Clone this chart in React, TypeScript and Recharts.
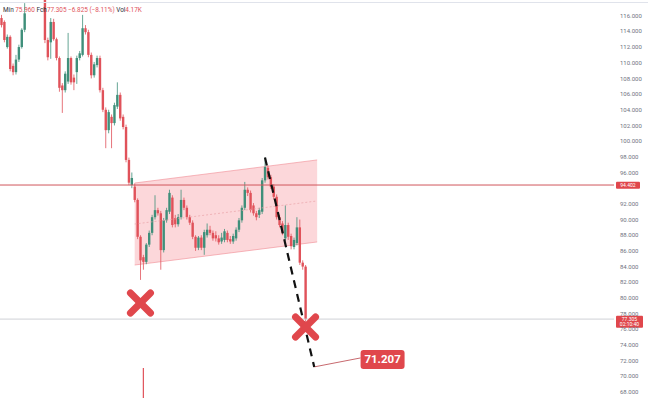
import React from "react";
import {
  ComposedChart,
  Bar,
  Area,
  Line,
  XAxis,
  YAxis,
  ReferenceLine,
  ReferenceDot,
} from "recharts";

// candles, oldest first (prices in thousands)
const opens = [
  115.7, 115.2, 112.0, 113.3, 109.6, 108.8, 110.4, 112.0, 114.2, 118.6,
  119.4, 120.1, 119.6, 118.9, 119.5, 118.7, 112.9, 112.6, 115.2, 113.0,
  110.6, 107.1, 106.5, 107.6, 110.6, 108.1, 108.8, 110.6, 111.0, 114.4,
  113.9, 111.0, 108.4, 109.7, 110.6, 106.5, 104.0, 101.4, 103.1, 102.3,
  104.4, 105.9, 103.1, 101.8, 97.6, 94.4, 94.2, 92.5, 87.8, 85.2,
  84.6, 86.8, 88.3, 90.3, 91.2, 90.8, 86.1, 89.9, 91.0, 92.8,
  90.2, 89.4, 90.3, 92.5, 91.5, 90.3, 89.6, 87.8, 86.4, 87.7,
  86.4, 88.0, 88.7, 88.3, 88.0, 87.6, 87.2, 87.4, 88.3, 87.5,
  87.2, 87.6, 88.7, 89.9, 91.5, 93.8, 93.4, 91.8, 90.8, 90.6,
  91.0, 95.0, 96.6, 95.4, 94.2, 92.9, 90.3, 89.5, 87.6, 89.3,
  87.9, 86.5, 87.0, 89.0, 84.5, 84.0,
];
const highs = [
  116.1, 115.4, 113.6, 113.5, 109.9, 111.0, 112.3, 114.4, 117.6, 119.8,
  120.6, 121.0, 120.2, 119.9, 119.9, 119.1, 113.2, 115.7, 115.6, 113.2,
  110.8, 107.4, 108.9, 113.8, 110.8, 108.5, 110.9, 111.5, 116.1, 114.8,
  114.2, 111.3, 110.1, 110.9, 110.9, 106.8, 104.3, 104.0, 103.4, 104.9,
  107.5, 106.2, 103.4, 102.1, 97.9, 96.0, 94.6, 92.7, 88.0, 85.5,
  87.0, 88.6, 90.6, 93.1, 91.5, 91.1, 90.2, 91.5, 93.8, 93.1,
  90.6, 90.7, 93.8, 92.8, 91.8, 90.6, 89.9, 88.0, 87.9, 88.0,
  88.7, 89.5, 89.2, 88.6, 88.5, 88.0, 88.3, 88.8, 88.6, 87.9,
  88.2, 89.0, 90.2, 91.8, 94.8, 94.1, 93.7, 92.1, 91.1, 91.5,
  95.3, 97.9, 96.9, 95.7, 94.5, 93.2, 90.6, 89.8, 91.8, 89.6,
  88.2, 87.7, 90.3, 90.0, 84.8, 84.2,
];
const lows = [
  114.5, 112.6, 111.8, 108.9, 108.4, 108.5, 110.1, 111.8, 113.9, 118.3,
  118.9, 119.2, 118.5, 118.4, 118.4, 112.5, 110.3, 110.5, 112.8, 110.3,
  106.3, 103.6, 106.2, 107.3, 107.2, 106.5, 107.3, 110.3, 110.8, 113.6,
  110.7, 108.0, 108.1, 109.4, 106.2, 103.7, 99.1, 101.0, 99.1, 102.0,
  104.1, 102.6, 101.5, 97.3, 94.4, 94.0, 92.2, 87.5, 82.3, 83.6,
  84.3, 86.5, 88.0, 90.0, 90.5, 83.6, 85.8, 89.6, 90.7, 89.0,
  89.0, 89.1, 90.0, 91.2, 90.0, 89.3, 87.5, 86.0, 86.1, 86.1,
  85.5, 87.7, 88.0, 87.3, 87.2, 86.8, 86.9, 87.1, 87.1, 86.9,
  86.9, 87.3, 88.4, 89.6, 91.2, 93.0, 90.9, 90.5, 89.9, 90.2,
  90.7, 94.7, 95.1, 93.9, 92.6, 90.0, 89.0, 88.0, 87.3, 87.4,
  86.2, 86.2, 86.7, 84.2, 83.6, 75.96,
];
const closes = [
  114.8, 112.9, 113.3, 109.2, 108.8, 110.4, 112.0, 114.2, 116.3, 119.4,
  120.1, 119.6, 118.9, 119.5, 118.7, 112.9, 110.7, 115.2, 113.0, 110.6,
  106.8, 106.5, 108.6, 110.6, 107.5, 107.5, 110.6, 111.2, 114.4, 113.9,
  111.0, 108.4, 109.8, 110.6, 106.5, 104.0, 101.4, 103.7, 102.3, 104.6,
  105.9, 102.9, 101.8, 97.6, 94.7, 95.3, 92.5, 87.8, 84.8, 84.6,
  86.8, 88.3, 90.3, 91.2, 90.8, 86.1, 89.9, 91.2, 93.4, 89.3,
  89.4, 90.3, 92.5, 91.5, 90.3, 89.6, 87.8, 86.4, 87.7, 86.4,
  88.4, 88.7, 88.3, 87.6, 87.6, 87.1, 87.7, 88.5, 87.4, 87.2,
  87.9, 88.7, 89.9, 91.5, 93.8, 93.4, 91.2, 90.8, 90.3, 91.2,
  95.0, 96.7, 95.4, 94.2, 92.9, 90.3, 89.3, 88.3, 89.3, 87.8,
  86.6, 87.4, 89.0, 84.5, 84.0, 77.305,
];

const SLOTS = 212;
// 94.000 sits under the level tag in the original, so it is left out
const yTicks = [68, 70, 72, 74, 76, 78, 80, 82, 84, 86, 88, 90, 92, 96, 98, 100, 102, 104, 106, 108, 110, 112, 114, 116];

// rising channel drawing
const channelIdx = [46, 109];
const channelLow = [84.2, 87.14];
const channelHigh = [94.66, 97.6];
const channelMid = [89.43, 92.37];

// projected drop
const projIdx = [91, 108];
const projVal = [97.9, 71.207];
const leaderIdx = [108, 124];
const leaderVal = [71.207, 72.35];

const crossIdx = [48, 105];
const crossVal = [79.35, 76.3];

const levelPrice = 94.402;
const lastPrice = 77.305;
const countdown = "02:10:40";
const target = 71.207;
const volIdx = 49;
const volTop = 71.06;

const RED = "#e0525a";
const GREEN = "#3f8f7a";
const TAG = "#e0474c";

const data = Array.from({ length: SLOTS }, (_, i) => {
  const row: any = { i };
  if (i < opens.length) {
    row.o = opens[i];
    row.h = highs[i];
    row.l = lows[i];
    row.c = closes[i];
    row.hl = [lows[i], highs[i]];
  }
  const ci = channelIdx.indexOf(i);
  if (ci >= 0) {
    row.chan = [channelLow[ci], channelHigh[ci]];
    row.mid = channelMid[ci];
  }
  const pi = projIdx.indexOf(i);
  if (pi >= 0) row.proj = projVal[pi];
  const li = leaderIdx.indexOf(i);
  if (li >= 0) row.lead = leaderVal[li];
  return row;
});

function Candle(props: any) {
  const { x, y, width, height, payload } = props;
  if (!payload || payload.o == null || !isFinite(y) || !isFinite(height)) return null;
  const { o, h, l, c } = payload;
  const top = Math.min(y, y + height);
  const span = Math.abs(height);
  const py = (v: number) => top + ((h - v) / (h - l || 1)) * span;
  const cx = x + width / 2;
  const color = c >= o ? GREEN : RED;
  const bTop = py(Math.max(o, c));
  const bH = Math.max(1, py(Math.min(o, c)) - bTop);
  return (
    <g>
      <line x1={cx} x2={cx} y1={py(h)} y2={py(l)} stroke={color} strokeWidth={0.8} />
      <rect x={cx - 1.2} y={bTop} width={2.4} height={bH} fill={color} />
    </g>
  );
}

function PriceTag(props: any) {
  const { viewBox, lines, w } = props;
  if (!viewBox) return null;
  const x = viewBox.x + viewBox.width + 2;
  const y = viewBox.y;
  const h = lines.length * 5 + 2;
  return (
    <g>
      <rect x={x} y={y - 3.3} width={w} height={h} rx={1} fill={TAG} />
      {lines.map((t: string, k: number) => (
        <text
          key={k}
          x={x + w / 2}
          y={y + 1.6 + k * 5}
          textAnchor="middle"
          fontSize={5}
          fontFamily="Roboto, sans-serif"
          fill="#fff"
        >
          {t}
        </text>
      ))}
    </g>
  );
}

function Cross(props: any) {
  const { cx, cy } = props;
  const r = 10;
  return (
    <g stroke={TAG} strokeWidth={7} strokeLinecap="round">
      <line x1={cx - r} y1={cy - r} x2={cx + r} y2={cy + r} />
      <line x1={cx - r} y1={cy + r} x2={cx + r} y2={cy - r} />
    </g>
  );
}

function TargetTag(props: any) {
  const { cx, cy } = props;
  return (
    <g>
      <rect x={cx} y={cy - 8} width={44} height={19} rx={3} fill={TAG} />
      <text
        x={cx + 22}
        y={cy + 5.5}
        textAnchor="middle"
        fontSize={11.5}
        fontWeight="bold"
        fontFamily="Roboto, sans-serif"
        fill="#fff"
      >
        {target.toFixed(3)}
      </text>
    </g>
  );
}

function Dot(props: any) {
  const { cx, cy, r, fill } = props;
  return <circle cx={cx} cy={cy} r={r} fill={fill} />;
}

export default function App() {
  return (
    <div style={{ position: "absolute", left: 0, top: 0, width: 648, height: 398, background: "#fff" }}>
      <ComposedChart
        width={648}
        height={398}
        data={data}
        margin={{ top: 0, right: 0, bottom: 0, left: 0 }}
        barCategoryGap={0}
      >
        <XAxis dataKey="i" hide />
        <YAxis
          orientation="right"
          width={34}
          domain={[67.24, 118]}
          allowDataOverflow
          ticks={yTicks}
          interval={0}
          axisLine={false}
          tickLine={false}
          tickSize={0}
          tickMargin={6}
          tick={{ fontSize: 6, fill: "#6f7280", fontFamily: "Roboto, sans-serif" }}
          tickFormatter={(v: number) => v.toFixed(3)}
        />
        <ReferenceLine
          y={lastPrice}
          stroke="#cfd1d6"
          strokeWidth={1}
          label={<PriceTag lines={[lastPrice.toFixed(3), countdown]} w={27} />}
        />
        <ReferenceLine
          segment={[{ x: volIdx, y: volTop }, { x: volIdx, y: 67.24 }]}
          stroke={RED}
          strokeWidth={1.2}
          ifOverflow="visible"
        />
        <Bar dataKey="hl" shape={<Candle />} isAnimationActive={false} />
        <Area
          dataKey="chan"
          type="linear"
          connectNulls
          fill="#f23645"
          fillOpacity={0.2}
          stroke="#f08a92"
          strokeOpacity={0.6}
          strokeWidth={1}
          dot={false}
          activeDot={false}
          isAnimationActive={false}
        />
        <Line
          dataKey="mid"
          type="linear"
          connectNulls
          stroke="#eaa3a8"
          strokeOpacity={0.7}
          strokeDasharray="2 2"
          strokeWidth={1}
          dot={false}
          activeDot={false}
          isAnimationActive={false}
        />
        <ReferenceLine
          y={levelPrice}
          stroke="#d0555b"
          strokeWidth={1}
          label={<PriceTag lines={[levelPrice.toFixed(3)]} w={24} />}
        />
        <Line
          dataKey="lead"
          type="linear"
          connectNulls
          stroke="#c86a6f"
          strokeWidth={1}
          dot={false}
          activeDot={false}
          isAnimationActive={false}
        />
        <Line
          dataKey="proj"
          type="linear"
          connectNulls
          stroke="#111"
          strokeWidth={2.2}
          strokeDasharray="8 6"
          dot={false}
          activeDot={false}
          isAnimationActive={false}
        />
        {crossIdx.map((ix, k) => (
          <ReferenceDot key={k} x={ix} y={crossVal[k]} r={10} shape={<Cross />} />
        ))}
        <ReferenceDot x={leaderIdx[1]} y={leaderVal[1]} r={1} shape={<TargetTag />} />
        <ReferenceDot x={133} y={113.28} r={1} shape={<Dot r={1} fill="#333" />} />
        <ReferenceDot x={98} y={76.42} r={1} shape={<Dot r={0.8} fill="#888" />} />
      </ComposedChart>
      <div
        style={{
          position: "absolute",
          left: 0,
          top: 2,
          width: 648,
          height: 1,
          background: "#e0e3eb",
        }}
      />
      <div
        style={{
          position: "absolute",
          left: 3,
          top: 6,
          fontSize: 6.4,
          lineHeight: "8px",
          fontFamily: "Roboto, sans-serif",
          color: "#e0525a",
          whiteSpace: "nowrap",
        }}
      >
        <span style={{ color: "#2a2e39" }}>Mín </span>75.960{" "}
        <span style={{ color: "#2a2e39" }}>Fch</span>77.305 −6.825 (−8.11%){" "}
        <span style={{ color: "#2a2e39" }}>Vol</span>4.17K
      </div>
    </div>
  );
}
